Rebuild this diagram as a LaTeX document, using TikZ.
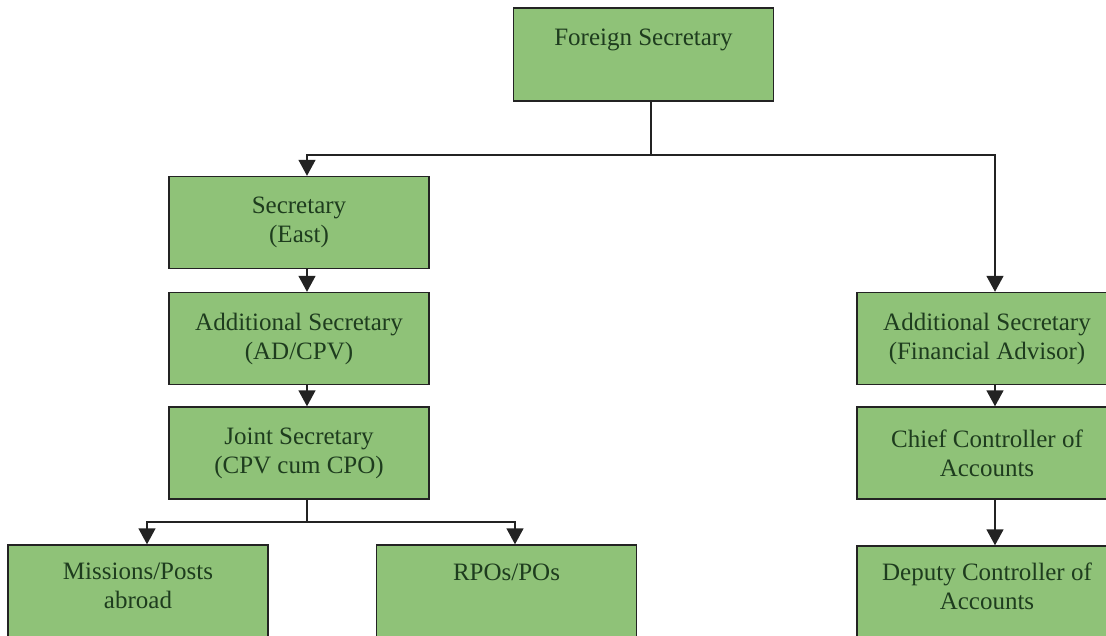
\documentclass[tikz,border=0pt]{standalone}
\usepackage{fontspec}
\setmainfont{Liberation Serif}
\usetikzlibrary{arrows.meta}
\definecolor{vert}{RGB}{143,194,120}
\definecolor{texte}{RGB}{30,60,30}
\definecolor{trait}{RGB}{35,35,35}
\begin{document}
\begin{tikzpicture}[x=1pt,y=-1pt,
  poste/.style={draw=trait, line width=1.4pt, fill=vert, text=texte,
    minimum width=260pt, minimum height=92pt, align=center,
    font=\fontsize{25}{29}\selectfont},
  bas/.style={minimum height=120pt, text depth=39pt},
  lien/.style={draw=trait, line width=1.5pt},
  fleche/.style={lien, -{Triangle[width=17pt,length=16pt]}}]
\useasboundingbox (0,0) rectangle (1106,636);
\clip (0,0) rectangle (1106,636);

% Sommet
\node[poste, minimum height=93pt, text height=18pt, text depth=36pt] (fs) at (643.5,54.5) {Foreign Secretary};

% Branche gauche
\node[poste] (se) at (299,222.5) {Secretary\\(East)};
\node[poste] (ad) at (299,338.5) {Additional Secretary\\(AD/CPV)};
\node[poste] (js) at (299,453) {Joint Secretary\\(CPV cum CPO)};
\node[poste, bas] (mp) at (138,605) {Missions/Posts\\abroad};
\node[poste, bas, text height=18pt, text depth=68pt] (rp) at (506.5,605) {RPOs/POs};

% Branche droite
\node[poste] (fa) at (987,338.5) {Additional Secretary\\(Financial Advisor)};
\node[poste] (cc) at (987,453) {Chief Controller of\\Accounts};
\node[poste, bas] (dc) at (987,606) {Deputy Controller of\\Accounts};

% Liaisons
\coordinate (haut) at (651,155);
\coordinate (milieu) at (307,522);
\draw[lien] ([xshift=7.5pt]fs.south) -- (haut);
\draw[fleche] (haut) -| ([xshift=8pt]se.north);
\draw[fleche] (haut) -| ([xshift=8pt]fa.north);
\draw[fleche] ([xshift=8pt]se.south) -- ([xshift=8pt]ad.north);
\draw[fleche] ([xshift=8pt]ad.south) -- ([xshift=8pt]js.north);
\draw[lien] ([xshift=8pt]js.south) -- (milieu);
\draw[fleche] (milieu) -| ([xshift=9pt]mp.north);
\draw[fleche] (milieu) -| ([xshift=8.5pt]rp.north);
\draw[fleche] ([xshift=8pt]fa.south) -- ([xshift=8pt]cc.north);
\draw[fleche] ([xshift=8pt]cc.south) -- ([xshift=8pt]dc.north);
\end{tikzpicture}
\end{document}
